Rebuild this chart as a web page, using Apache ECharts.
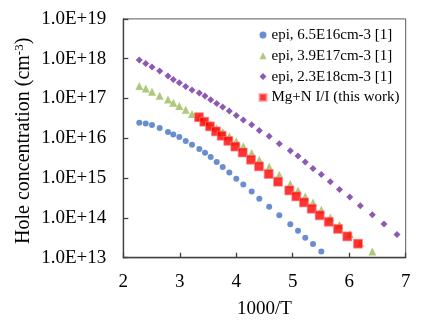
<!DOCTYPE html>
<html>
<head>
<meta charset="utf-8">
<script src="https://cdn.jsdelivr.net/npm/echarts@6/dist/echarts.min.js"></script>
<style>
  html, body { margin: 0; padding: 0; background: #fff; }
  #chart { width: 436px; height: 330px; }
</style>
</head>
<body>
<div id="chart"></div>
<script>
// 1000/T grid shared by the epitaxial reference curves
const epiX = [2.283, 2.397, 2.508, 2.644, 2.791, 2.885, 2.992, 3.105, 3.216, 3.346, 3.447,
  3.547, 3.654, 3.760, 3.877, 4.001, 4.125, 4.273, 4.408, 4.583, 4.762, 4.957, 5.093,
  5.222, 5.359, 5.506, 5.665, 5.828, 6.010, 6.196, 6.409, 6.616, 6.846];

// hole concentration (cm^-3), epi 6.5E16
const epiLow = [2.47e16, 2.37e16, 2.16e16, 1.82e16, 1.44e16, 1.25e16, 1.08e16, 8.55e15,
  6.9e15, 5.4e15, 4.35e15, 3.39e15, 2.54e15, 1.9e15, 1.39e15, 9.7e14, 6.95e14, 4.63e14,
  3.04e14, 1.91e14, 1.16e14, 6.9e13, 4.77e13, 3.18e13, 2.21e13, 1.44e13];

// epi 3.9E17
const epiMid = [2.06e17, 1.79e17, 1.48e17, 1.18e17, 9.5e16, 7.8e16, 6.5e16, 5.2e16,
  4.1e16, 3.3e16, 2.7e16, 2.2e16, 1.82e16, 1.44e16, 1.12e16, 8.4e15, 6.3e15, 4.3e15,
  2.9e15, 1.93e15, 1.22e15, 7.1e14, 4.9e14, 3.47e14, 2.45e14, 1.61e14, 1.03e14,
  6.75e13, 3.94e13, 2.34e13, 1.44e13];

// epi 2.3E18
const epiHigh = [9.27e17, 7.6e17, 6.2e17, 4.9e17, 3.67e17, 3.02e17, 2.5e17, 2.01e17,
  1.64e17, 1.37e17, 1.16e17, 9.3e16, 7.5e16, 6.1e16, 4.85e16, 3.76e16, 2.88e16, 2.2e16,
  1.58e16, 1.12e16, 7.3e15, 4.9e15, 3.6e15, 2.54e15, 1.75e15, 1.24e15, 8.1e14, 5.2e14,
  3.35e14, 2.03e14, 1.2e14, 7.0e13, 3.85e13];

// Mg+N ion implantation (this work)
const mgnX = [3.340, 3.434, 3.535, 3.641, 3.742, 3.859, 3.983, 4.114, 4.261, 4.403,
  4.574, 4.739, 4.939, 5.063, 5.199, 5.336, 5.477, 5.637, 5.801, 5.966, 6.155];
const mgnP = [3.39e16, 2.61e16, 1.99e16, 1.49e16, 1.16e16, 8.6e15, 6.2e15, 4.4e15,
  2.9e15, 1.97e15, 1.27e15, 8.1e14, 4.9e14, 3.47e14, 2.45e14, 1.70e14, 1.16e14,
  8.0e13, 5.3e13, 3.43e13, 2.25e13];

const seriesNames = ['epi, 6.5E16cm-3 [1]', 'epi, 3.9E17cm-3 [1]', 'epi, 2.3E18cm-3 [1]', 'Mg+N I/I (this work)'];
const xTicks = [2, 7, 1];          // min, max, step
const yRange = [1e13, 1e19];

const pair = (xs, ys) => ys.map((y, i) => [xs[i], y]);
const FONT = '"Liberation Serif", "Times New Roman", serif';

const chart = echarts.init(document.getElementById('chart'), null, { renderer: 'canvas' });
chart.setOption({
  animation: false,
  backgroundColor: '#fff',
  textStyle: { fontFamily: FONT, color: '#000' },
  grid: {
    left: 123.3, right: 30.3, top: 18.9, bottom: 72.3,
    show: true, borderColor: '#595959', borderWidth: 1
  },
  legend: {
    orient: 'vertical',
    left: 253.5, top: 22,
    itemWidth: 7, itemHeight: 7,
    itemGap: 4.8,
    textStyle: { fontFamily: FONT, fontSize: 15, color: '#000', lineHeight: 16 },
    data: [
      { name: seriesNames[0], icon: 'circle' },
      { name: seriesNames[1], icon: 'triangle' },
      { name: seriesNames[2], icon: 'diamond' },
      { name: seriesNames[3], icon: 'rect' }
    ]
  },
  xAxis: {
    type: 'value',
    min: xTicks[0], max: xTicks[1], interval: xTicks[2],
    name: '1000/T',
    nameLocation: 'middle',
    nameGap: 42,
    nameMoveOverlap: false,
    nameTextStyle: { fontFamily: FONT, fontSize: 19, color: '#000' },
    axisLine: { show: true, onZero: false, lineStyle: { color: '#404040', width: 1.3 } },
    axisTick: { show: true, inside: true, length: 5, lineStyle: { color: '#404040', width: 1.3 } },
    axisLabel: { fontFamily: FONT, fontSize: 19, color: '#000', margin: 15 },
    splitLine: { show: false }
  },
  yAxis: {
    type: 'log',
    logBase: 10,
    min: yRange[0], max: yRange[1],
    name: 'Hole concentration (cm{sup|-3})',
    nameLocation: 'middle',
    nameGap: 89,
    nameMoveOverlap: false,
    nameRotate: 90,
    nameTextStyle: {
      fontFamily: FONT, fontSize: 20, color: '#000',
      padding: [0, 5, 0, 0],
      rich: { sup: { fontFamily: FONT, fontSize: 13, verticalAlign: 'top', padding: [0, 0, 8, 0] } }
    },
    axisLine: { show: true, onZero: false, lineStyle: { color: '#404040', width: 1.3 } },
    axisTick: { show: true, inside: true, length: 5, lineStyle: { color: '#404040', width: 1.3 } },
    axisLabel: {
      fontFamily: FONT, fontSize: 19, color: '#000', margin: 17,
      formatter: v => '1.0E+' + Math.round(Math.log10(v))
    },
    splitLine: { show: false },
    minorTick: { show: false }
  },
  series: [
    {
      name: seriesNames[0], type: 'scatter', symbol: 'circle', symbolSize: 6,
      itemStyle: { color: '#4472C4' },
      data: pair(epiX, epiLow)
    },
    {
      name: seriesNames[1], type: 'scatter', symbol: 'triangle', symbolSize: 8,
      itemStyle: { color: '#9BBB59' },
      data: pair(epiX, epiMid)
    },
    {
      name: seriesNames[2], type: 'scatter', symbol: 'diamond', symbolSize: 7,
      itemStyle: { color: '#7030A0' },
      data: pair(epiX, epiHigh)
    },
    {
      name: seriesNames[3], type: 'scatter', symbol: 'rect', symbolSize: 9,
      itemStyle: { color: '#FF0000', borderColor: 'rgba(255,140,140,0.8)', borderWidth: 1 },
      data: pair(mgnX, mgnP),
      z: 5
    }
  ]
});
</script>
</body>
</html>
